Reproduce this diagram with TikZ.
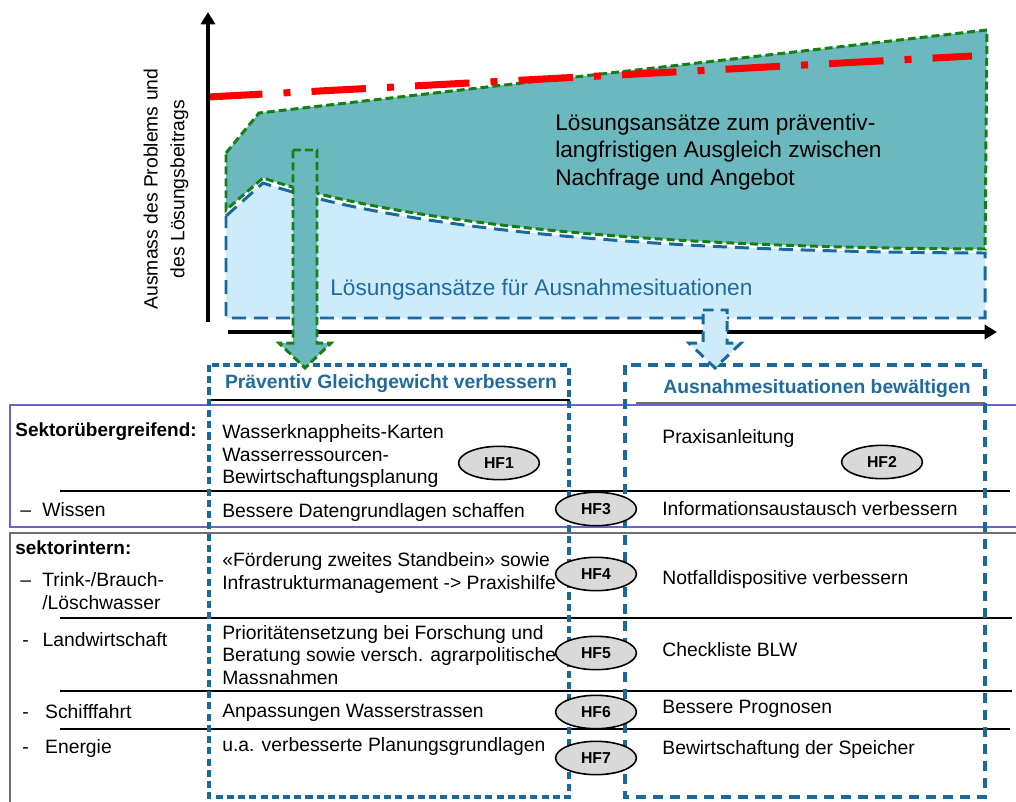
\documentclass[tikz,border=0pt]{standalone}
\usepackage{fontspec}
\setmainfont{Liberation Sans}
\usetikzlibrary{shapes.geometric,arrows.meta}
\definecolor{tealfill}{RGB}{107,184,190}
\definecolor{lbfill}{RGB}{205,235,251}
\definecolor{greenline}{RGB}{20,128,20}
\definecolor{blueline}{RGB}{24,106,156}
\definecolor{bluetext}{RGB}{31,107,160}
\definecolor{redline}{RGB}{255,0,0}
\definecolor{purpleline}{RGB}{102,102,204}
\definecolor{grayline}{RGB}{110,110,110}
\definecolor{hfgray}{RGB}{217,217,217}
\tikzset{
  greendash/.style={draw=greenline, line width=1.7pt, dash pattern=on 4.5pt off 2.3pt},
  bluedash/.style={draw=blueline, line width=1.7pt, dash pattern=on 8pt off 4.5pt},
  boxdashL/.style={draw=blueline, line width=1.8pt, dash pattern=on 4pt off 2.4pt},
  boxdashR/.style={draw=blueline, line width=1.8pt, dash pattern=on 5.7pt off 4pt},
  axisline/.style={draw=black, line width=2.3pt, -{Triangle[length=7pt,width=8pt]}},
  body/.style={font=\fontsize{11}{12.8}\selectfont, inner sep=0pt, align=left, anchor=west},
  charttext/.style={font=\fontsize{12.9}{15.6}\selectfont, inner sep=0pt, align=left},
  header/.style={font=\bfseries\fontsize{11}{13}\selectfont, text=bluetext, inner sep=0pt},
  sectlabel/.style={font=\bfseries\fontsize{10.8}{13}\selectfont, inner sep=0pt, anchor=west},
  hf/.style={ellipse, draw=black, line width=0.9pt, fill=hfgray, minimum width=46pt, minimum height=19pt, inner sep=0pt, font=\bfseries\fontsize{9}{10}\selectfont},
  rowline/.style={draw=black, line width=0.8pt}
}
\begin{document}
\begin{tikzpicture}[x=0.02cm,y=-0.02cm]
\useasboundingbox (0,0) rectangle (1016,801);
% ---- chart areas
\fill[lbfill] (226,216) -- (263,183) .. controls (420,235) and (700,252) .. (985,253) -- (985,318) -- (226,318) -- cycle;
\path[bluedash] (226,216) -- (263,183) .. controls (420,235) and (700,252) .. (985,253) -- (985,318) -- (226,318) -- cycle;
\fill[tealfill] (226,153) -- (259,113) -- (987,30) -- (985,249) .. controls (700,248) and (420,230) .. (263,178) -- (226,210) -- cycle;
\path[greendash] (226,153) -- (259,113) -- (987,30) -- (985,249) .. controls (700,248) and (420,230) .. (263,178) -- (226,210) -- cycle;
% red dash-dot line
\coordinate (redA) at (208,97);
\coordinate (redB) at (972,56);
\draw[redline, line width=4pt, dash pattern=on 31pt off 12pt on 4pt off 12pt] (redA) -- (redB);
% chart texts
\node[charttext, anchor=west] (ta) at (555,152) {Lösungsansätze zum präventiv-\\langfristigen Ausgleich zwischen\\Nachfrage und Angebot};
\node[charttext, anchor=west, text=bluetext] (tb) at (330,290) {Lösungsansätze für Ausnahmesituationen};
\node[font=\fontsize{11}{15.3}\selectfont, align=center, rotate=90, inner sep=0pt] (ylab) at (166,189) {Ausmass des Problems und\\des Lösungsbeitrags};
% axes
\coordinate (y0) at (208,322);
\coordinate (y1) at (208,12);
\coordinate (x0) at (228,332);
\coordinate (x1) at (997,332);
\draw[axisline] (y0) -- (y1);
\draw[axisline] (x0) -- (x1);
% ---- table frames
\draw[purpleline, line width=1.3pt] (10,405) rectangle (1030,527);
\draw[grayline, line width=1.6pt] (10,533) rectangle (1030,830);
\draw[rowline] (210,400) -- (570,400);
\draw[draw=grayline, line width=1.1pt] (636,403) -- (985,403);
\draw[rowline] (60,491) -- (1010,491);
\draw[rowline] (60,618) -- (1012,618);
\draw[rowline] (60,691) -- (1012,691);
\draw[rowline] (60,729) -- (1010,729);
\path[boxdashL] (209,365) rectangle (569,797);
\path[boxdashR] (625,365) rectangle (985,797);
% headers
\node[header] (h1) at (391,384) {Präventiv Gleichgewicht verbessern};
\node[header] (h2) at (817,389) {Ausnahmesituationen bewältigen};
% left column
\node[sectlabel] (s1) at (15,432) {Sektorübergreifend:};
\node[body] (l1) at (20,510) {\makebox[12.5pt][l]{–}Wissen};
\node[sectlabel] (s2) at (15,548) {sektorintern:};
\node[body] (l2) at (20,591) {\makebox[12.5pt][l]{–}Trink-/Brauch-\\\hspace*{12.5pt}/Löschwasser};
\node[body] (l3) at (22,640) {\makebox[11.5pt][l]{-}Landwirtschaft};
\node[body] (l4) at (22,712) {\makebox[13pt][l]{-}Schifffahrt};
\node[body] (l5) at (22,748) {\makebox[13pt][l]{-}Energie};
% middle column
\node[body] (m1) at (222,456) {Wasserknappheits-Karten\\Wasserressourcen-\\Bewirtschaftungsplanung};
\node[body] (m2) at (222,512) {Bessere Datengrundlagen schaffen};
\node[body] (m3) at (222,573) {«Förderung zweites Standbein» sowie\\Infrastrukturmanagement -> Praxishilfe};
\node[body] (m4) at (222,655) {Prioritätensetzung bei Forschung und\\Beratung sowie versch. agrarpolitische\\Massnahmen};
\node[body] (m5) at (222,713) {Anpassungen Wasserstrassen};
\node[body] (m6) at (222,746) {u.a. verbesserte Planungsgrundlagen};
% right column
\node[body] (r1) at (662,438) {Praxisanleitung};
\node[body] (r2) at (662,509) {Informationsaustausch verbessern};
\node[body] (r3) at (662,579) {Notfalldispositive verbessern};
\node[body] (r4) at (662,650) {Checkliste BLW};
\node[body] (r5) at (662,709) {Bessere Prognosen};
\node[body] (r6) at (662,749) {Bewirtschaftung der Speicher};
% HF ellipses
\node[hf] (hf1) at (499,463) {HF1};
\node[hf] (hf2) at (882,462) {HF2};
\node[hf] (hf3) at (596,509) {HF3};
\node[hf] (hf4) at (596,574) {HF4};
\node[hf] (hf5) at (596,653) {HF5};
\node[hf] (hf6) at (596,712) {HF6};
\node[hf] (hf7) at (596,758) {HF7};
% ---- block arrows
\filldraw[fill=tealfill, greendash] (293,150) -- (317,150) -- (317,343) -- (331,343) -- (305,368) -- (279,343) -- (293,343) -- cycle;
\filldraw[fill=lbfill, bluedash, dash pattern=on 6pt off 4pt] (703,310) -- (727,310) -- (727,343) -- (741,343) -- (715,368) -- (689,343) -- (703,343) -- cycle;
\end{tikzpicture}
\end{document}
